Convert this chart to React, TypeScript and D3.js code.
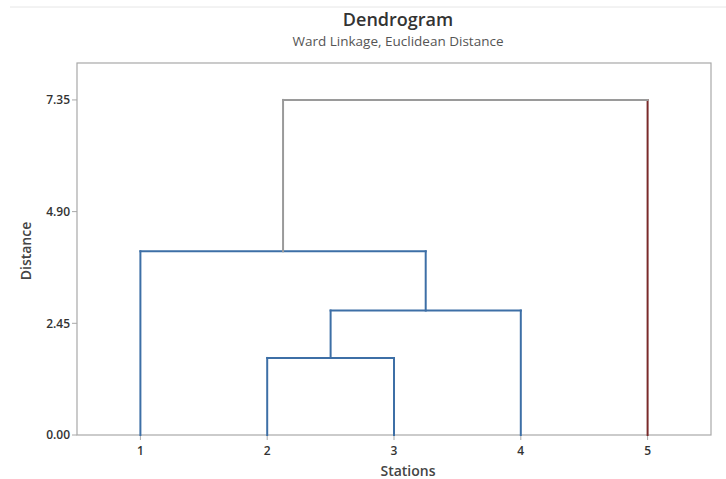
import React from "react";
import * as d3 from "d3";

const stations = ["1", "2", "3", "4", "5"];
// merges: [left node, right node, distance]; nodes >= stations.length refer to earlier merges
const mergeLeft = [1, 5, 0, 7];
const mergeRight = [2, 3, 6, 4];
const mergeHeight = [1.69, 2.73, 4.03, 7.35];
const mergeColor = ["#3d6fa6", "#3d6fa6", "#3d6fa6", "#9a9a9a"];
const leafColor = ["#3d6fa6", "#3d6fa6", "#3d6fa6", "#3d6fa6", "#7a2a2a"];
const yTicks = [0, 2.45, 4.9, 7.35];

const W = 726, H = 479;
const M = { left: 77, right: 711, top: 63, bottom: 435 };
const FONT = "'Open Sans', 'Noto Sans', sans-serif";

export default function App() {
  const x = d3.scalePoint<string>().domain(stations).range([M.left, M.right]).padding(0.5);
  const y = d3.scaleLinear().domain([0, 8.16]).range([M.bottom, M.top]);

  const n = stations.length;
  const nodeX: number[] = stations.map((s) => x(s) as number);
  const nodeH: number[] = stations.map(() => 0);
  const paths: { d: string; color: string }[] = [];

  mergeHeight.forEach((h, i) => {
    const a = mergeLeft[i], b = mergeRight[i];
    const xa = nodeX[a], xb = nodeX[b];
    const yh = y(h);
    const ca = a < n ? leafColor[a] : mergeColor[i];
    const cb = b < n ? leafColor[b] : mergeColor[i];
    paths.push({ d: `M${xa},${y(nodeH[a])}V${yh}`, color: ca });
    paths.push({ d: `M${xb},${y(nodeH[b])}V${yh}`, color: cb });
    paths.push({ d: `M${xa},${yh}H${xb}`, color: mergeColor[i] });
    nodeX[n + i] = (xa + xb) / 2;
    nodeH[n + i] = h;
  });

  return (
    <svg width={W} height={H} style={{ position: "absolute", left: 0, top: 0, background: "#fff" }} fontFamily={FONT}>
      <line x1={10} x2={726} y1={7} y2={7} stroke="#e6e6e6" strokeWidth={1} />
      <text x={398} y={26} textAnchor="middle" fontSize={18} fontWeight="600" fill="#333">Dendrogram</text>
      <text x={398} y={46} textAnchor="middle" fontSize={13.5} fill="#555">Ward Linkage, Euclidean Distance</text>

      <rect x={M.left} y={M.top} width={M.right - M.left} height={M.bottom - M.top} fill="none" stroke="#a8a8a8" strokeWidth={1.2} />

      {yTicks.map((t) => (
        <g key={t}>
          <line x1={M.left - 5} x2={M.left} y1={y(t)} y2={y(t)} stroke="#a8a8a8" />
          <text x={M.left - 7} y={y(t)} dy="0.35em" textAnchor="end" fontSize={12} fontWeight="600" fill="#333">{t.toFixed(2)}</text>
        </g>
      ))}
      {stations.map((s) => (
        <g key={s}>
          <line x1={x(s)} x2={x(s)} y1={M.bottom} y2={M.bottom + 5} stroke="#a8a8a8" />
          <text x={x(s)} y={M.bottom + 20} textAnchor="middle" fontSize={12} fontWeight="600" fill="#333">{s}</text>
        </g>
      ))}

      <text x={408} y={477} textAnchor="middle" fontSize={14} fontWeight="600" fill="#444" dy="-0.1em">Stations</text>
      <text transform={`translate(31,${(M.top + M.bottom) / 2 + 2}) rotate(-90)`} textAnchor="middle" fontSize={14} fontWeight="600" fill="#444">Distance</text>

      {paths.map((p, i) => (
        <path key={i} d={p.d} stroke={p.color} strokeWidth={2} fill="none" strokeLinecap="square" />
      ))}
    </svg>
  );
}
